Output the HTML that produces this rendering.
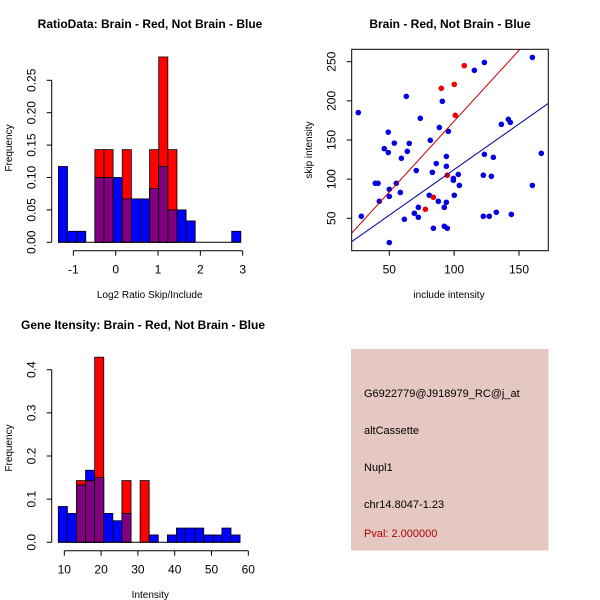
<!DOCTYPE html>
<html><head><meta charset="utf-8"><style>
html,body{margin:0;padding:0;background:#fff;}
svg{display:block;font-family:"Liberation Sans",sans-serif;}
</style></head><body>
<svg id="c" width="600" height="600" viewBox="0 0 600 600" xmlns="http://www.w3.org/2000/svg">
<rect x="351" y="349" width="197.5" height="201.5" fill="#e6c8c2"/>
<g font-size="11" fill="#000">
<text x="364" y="397">G6922779@J918979_RC@j_at</text>
<text x="364" y="434">altCassette</text>
<text x="364" y="471">Nupl1</text>
<text x="364" y="508">chr14.8047-1.23</text>
<text x="364" y="537" fill="#b00000">Pval: 2.000000</text>
</g>
</svg>
<script>
const NS='http://www.w3.org/2000/svg';
const svg=document.getElementById('c');
function mk(tag,attrs,parent){const e=document.createElementNS(NS,tag);for(const k in attrs)e.setAttribute(k,attrs[k]);(parent||svg).appendChild(e);return e;}

// ---- Ratio histogram data ----
const ratioBinStart=-1.354, ratioBinWidth=0.2155;
const ratioBlue=[0.117,0.017,0.017,0,0.1,0.1,0.1,0.067,0.067,0.067,0.083,0.117,0.05,0.05,0.033,0,0,0,0,0.017];
const ratioRed=[0,0,0,0,0.143,0.143,0,0.143,0,0,0.143,0.286,0.143,0,0,0,0,0,0,0];
const ratioXTicks=[-1,0,1,2,3];
const ratioYTicks=[0,0.05,0.10,0.15,0.20,0.25];
const ratioYLabels=['0.00','0.05','0.10','0.15','0.20','0.25'];

// ---- Intensity histogram data ----
const intBinStart=8.37, intBinWidth=2.47;
const intBlue=[0.083,0.067,0.133,0.167,0.15,0.067,0.05,0.067,0,0,0.017,0,0.017,0.033,0.033,0.033,0.017,0.017,0.033,0.017];
const intRed=[0,0,0.143,0.143,0.429,0,0,0.143,0,0.143,0,0,0,0,0,0,0,0,0,0];
const intXTicks=[10,20,30,40,50,60];
const intYTicks=[0,0.1,0.2,0.3,0.4];
const intYLabels=['0.0','0.1','0.2','0.3','0.4'];

// ---- Scatter data ----
const blueX=[26.1,28.4,39.2,41.3,42.3,46.1,49.2,49.2,50,50,50,53.9,55.4,58.5,59.3,61.6,63.1,63.9,65.4,69.3,70.8,72.4,72.4,73.9,80.8,81.6,83.2,84,86.2,87.8,88.6,90.9,92.4,92.4,94,94,94,94.7,95.5,99.4,99.4,100.1,103.2,104,115.6,123.3,122.5,122.5,123.3,127.1,128.7,130.2,132.5,136.4,141.8,143.3,144.1,160.3,160.3,167.2];
const blueY=[185,52.6,94.7,94.7,71.7,139,160,134,87,78,19,146,94.7,83,126.6,48.7,205.7,135.5,145.7,56.4,111,64,51.3,177.7,79.4,149.6,108.7,37.2,120,71.7,166,199.4,64,39.8,116.4,129,70.4,37.2,161,101,98.5,79.4,106,92,239,249,52.6,105,131.7,52.6,103.6,127.9,57.7,170,176.4,172.5,55,255.5,92,133];
const redX=[77.8,84,90.1,94.7,100.1,100.9,107.8];
const redY=[61.5,76.8,216,105,221,181.5,245];
const redFit=[-7,1.81];   // intercept, slope
const blueFit=[-4.3,1.165];
const scXTicks=[50,100,150];
const scYTicks=[50,100,150,200,250];

function text(x,y,s,opts,name){const t=mk('text',Object.assign({x:x,y:y,'font-size':12,'text-anchor':'middle'},opts||{}));t.textContent=s;


return t;}

function hist(cfg){
  const g=mk('g',{});
  
  
  const sx=v=>cfg.x0+(v-cfg.xv0)*cfg.kx;
  const sy=v=>cfg.y0-v*cfg.ky;
  const n=cfg.blue.length;
  for(let i=0;i<n;i++){
    const a=cfg.start+i*cfg.w, b=a+cfg.w;
    const bl=cfg.blue[i], rd=cfg.red[i];
    if(bl>0){const r=mk('rect',{x:sx(a),y:sy(bl),width:sx(b)-sx(a),height:sy(0)-sy(bl),fill:'#0000ff',stroke:'#000','stroke-width':0.8},g);
      }
    if(rd>0){const r=mk('rect',{x:sx(a),y:sy(rd),width:sx(b)-sx(a),height:sy(0)-sy(rd),fill:'#ff0000',stroke:'#000','stroke-width':0.8},g);
      }
    if(bl>0&&rd>0){const m=Math.min(bl,rd);const r=mk('rect',{x:sx(a),y:sy(m),width:sx(b)-sx(a),height:sy(0)-sy(m),fill:'#800080',stroke:'#000','stroke-width':0.8},g);
      }
  }
  mk('line',{x1:sx(cfg.start),x2:sx(cfg.start+n*cfg.w),y1:sy(0),y2:sy(0),stroke:'#000','stroke-width':1},g);
  const xa=cfg.xticks;
  const ax=mk('g',{stroke:'#000','stroke-width':1},g);
  
  mk('line',{x1:sx(xa[0]),x2:sx(xa[xa.length-1]),y1:cfg.xaxisY,y2:cfg.xaxisY},ax);
  xa.forEach(v=>{mk('line',{x1:sx(v),x2:sx(v),y1:cfg.xaxisY,y2:cfg.xaxisY+5},ax);
    text(sx(v),cfg.xaxisY+23,String(v),{},'x-tick-label');});
  const ya=cfg.yticks;
  const ay=mk('g',{stroke:'#000','stroke-width':1},g);
  
  mk('line',{x1:cfg.yaxisX,x2:cfg.yaxisX,y1:sy(ya[0]),y2:sy(ya[ya.length-1])},ay);
  ya.forEach((v,i)=>{mk('line',{x1:cfg.yaxisX,x2:cfg.yaxisX-5,y1:sy(v),y2:sy(v)},ay);
    const y=sy(v), x=cfg.yaxisX-16;
    text(x,y,cfg.ylabels[i],{transform:`rotate(-90 ${x} ${y})`},'y-tick-label');});
  text(cfg.titleX,cfg.titleY,cfg.title,{'font-weight':'bold','font-size':12},'chart-title');
  text(cfg.x0+(cfg.xlabX||98),cfg.xlabY,cfg.xlab,{'font-size':10},'x-axis-title');
  text(12,cfg.ylabY,'Frequency',{'font-size':10,transform:`rotate(-90 12 ${cfg.ylabY})`},'y-axis-title');
}

hist({name:'ratio-histogram',start:ratioBinStart,w:ratioBinWidth,blue:ratioBlue,red:ratioRed,
  x0:115.7,xv0:0,kx:42.33,y0:242.3,ky:648,xaxisY:250.7,yaxisX:51.7,
  xticks:ratioXTicks,yticks:ratioYTicks,ylabels:ratioYLabels,
  title:'RatioData: Brain - Red, Not Brain - Blue',titleX:150,titleY:28,
  xlab:'Log2 Ratio Skip/Include',xlabX:34,xlabY:298,ylabY:148});

hist({name:'intensity-histogram',start:intBinStart,w:intBinWidth,blue:intBlue,red:intRed,
  x0:64.3,xv0:10,kx:3.68,y0:542.3,ky:431.5,xaxisY:550.7,yaxisX:51.7,
  xticks:intXTicks,yticks:intYTicks,ylabels:intYLabels,
  title:'Gene Itensity: Brain - Red, Not Brain - Blue',titleX:143,titleY:329,
  xlab:'Intensity',xlabX:86,xlabY:598,ylabY:448});

(function(){
  const L=351.7,R=548.3,T=49.3,B=250.7;
  const sx=v=>389.3+(v-50)*1.297;
  const sy=v=>218.3-(v-50)*0.783;
  const g=mk('g',{});
  
  
  const clip=mk('clipPath',{id:'scclip'},g);
  mk('rect',{x:L,y:T,width:R-L,height:B-T},clip);
  const pts=mk('g',{'clip-path':'url(#scclip)'},g);
  
  
  blueX.forEach((x,i)=>{const c=mk('circle',{cx:sx(x),cy:sy(blueY[i]),r:2.8,fill:'#0000e0'},pts);
    });
  redX.forEach((x,i)=>{const c=mk('circle',{cx:sx(x),cy:sy(redY[i]),r:2.8,fill:'#ee0000'},pts);
    });
  const xs=[0,200];
  const rl=mk('line',{x1:sx(xs[0]),y1:sy(redFit[0]+redFit[1]*xs[0]),x2:sx(xs[1]),y2:sy(redFit[0]+redFit[1]*xs[1]),stroke:'#cc0000','stroke-width':1},pts);
  
  const bl=mk('line',{x1:sx(xs[0]),y1:sy(blueFit[0]+blueFit[1]*xs[0]),x2:sx(xs[1]),y2:sy(blueFit[0]+blueFit[1]*xs[1]),stroke:'#000099','stroke-width':1},pts);
  
  const fr=mk('rect',{x:L,y:T,width:R-L,height:B-T,fill:'none',stroke:'#000','stroke-width':1},g);
  
  const ax=mk('g',{stroke:'#000'},g);
  scXTicks.forEach(v=>{mk('line',{x1:sx(v),x2:sx(v),y1:B,y2:B+5},ax);text(sx(v),B+23,String(v),{},'x-tick-label');});
  scYTicks.forEach(v=>{mk('line',{x1:L,x2:L-5,y1:sy(v),y2:sy(v)},ax);const x=L-16,y=sy(v);
    text(x,y,String(v),{transform:`rotate(-90 ${x} ${y})`},'y-tick-label');});
  text(450,28,'Brain - Red, Not Brain - Blue',{'font-weight':'bold','font-size':12},'chart-title');
  text(449,298,'include intensity',{'font-size':10},'x-axis-title');
  text(312,150,'skip intensity',{'font-size':10,transform:'rotate(-90 312 150)'},'y-axis-title');
})();
</script>
</body></html>
